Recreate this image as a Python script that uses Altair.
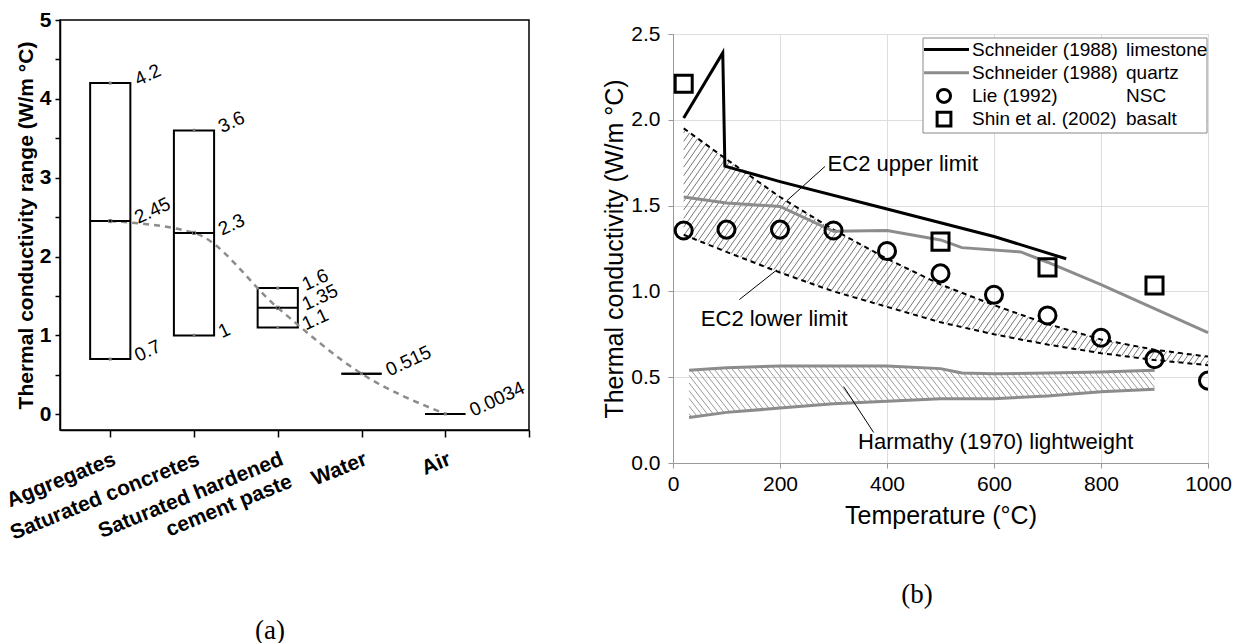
import math
import numpy as np
import altair as alt
import pandas as pd

# ---------------- panel (a) data ----------------
a_cats = ["Aggregates", "Saturated concretes", "Saturated hardened\ncement paste", "Water", "Air"]
a_pos = [1, 2, 3, 4, 5]
a_lo = [0.7, 1.0, 1.1, 0.515, 0.0034]
a_mid = [2.45, 2.3, 1.35, 0.515, 0.0034]
a_hi = [4.2, 3.6, 1.6, 0.515, 0.0034]

# ---------------- panel (b) data ----------------
lime_T = [20, 93, 97, 200, 400, 600, 735]
lime_k = [2.01, 2.39, 1.73, 1.64, 1.48, 1.32, 1.19]
quartz_T = [20, 100, 200, 300, 400, 500, 540, 650, 700, 800, 1000]
quartz_k = [1.55, 1.515, 1.495, 1.35, 1.355, 1.30, 1.255, 1.23, 1.17, 1.04, 0.76]
lie_T = [20, 100, 200, 300, 400, 500, 600, 700, 800, 900, 1000]
lie_k = [1.355, 1.36, 1.36, 1.355, 1.235, 1.105, 0.98, 0.86, 0.73, 0.605, 0.48]
shin_T = [20, 500, 700, 900]
shin_k = [2.21, 1.29, 1.14, 1.035]
ec2_T = [20, 100, 200, 300, 400, 500, 600, 700, 800, 900, 1000]
ec2_up = [1.95, 1.77, 1.55, 1.36, 1.19, 1.04, 0.92, 0.81, 0.72, 0.66, 0.62]
ec2_lo = [1.33, 1.23, 1.11, 1.00, 0.91, 0.82, 0.75, 0.69, 0.64, 0.60, 0.57]
harm_T = [30, 100, 200, 300, 400, 500, 540, 600, 700, 800, 900]
harm_up = [0.54, 0.555, 0.565, 0.565, 0.565, 0.55, 0.525, 0.52, 0.525, 0.53, 0.54]
harm_lo = [0.265, 0.295, 0.32, 0.345, 0.36, 0.375, 0.375, 0.375, 0.39, 0.415, 0.43]

ann_text = ["EC2 upper limit", "EC2 lower limit", "Harmathy (1970) lightweight"]
ann_T = [289, 52, 346]
ann_k = [1.742, 0.839, 0.12]
lead_T1 = [284, 124, 375]
lead_k1 = [1.728, 0.952, 0.178]
lead_T2 = [213, 194, 319]
lead_k2 = [1.529, 1.125, 0.445]

leg_name = ["Schneider (1988)", "Schneider (1988)", "Lie (1992)", "Shin et al. (2002)"]
leg_type = ["limestone", "quartz", "NSC", "basalt"]

FONT = "Liberation Sans"

# ================= panel (a) =================
PW_A, PH_A = 469, 410
dfa = pd.DataFrame({"cat": a_cats, "pos": a_pos, "lo": a_lo, "mid": a_mid, "hi": a_hi})

rows = []
for p, lo, mi, hi in zip(a_pos, a_lo, a_mid, a_hi):
    vals = []
    for v, kind in ((hi, "hi"), (mi, "mid"), (lo, "lo")):
        if all(abs(v - w) > 1e-9 for w, _ in vals):
            vals.append((v, kind))
    for v, kind in vals:
        rows.append({"pos": p, "val": v, "txt": f"{v:g}", "kind": kind})
dfl = pd.DataFrame(rows)

parts = []
for p, c in zip(a_pos, a_cats):
    if "\n" in c:
        lit = "[" + ",".join("'" + s + "'" for s in c.split("\n")) + "]"
    else:
        lit = "'" + c + "'"
    parts.append(f"datum.value == {p} ? {lit}")
xlabel_expr = " : ".join(parts) + " : ''"

axis_xa = alt.Axis(values=[1, 2, 3, 4, 5, 6], labelExpr=xlabel_expr, labelAngle=338,
                   labelAlign="right", labelBaseline="top", labelFontSize=21,
                   labelFontWeight="bold", labelPadding=11, labelLineHeight=24,
                   labelOverlap=False, labelFlush=False, labelLimit=500, tickSize=7,
                   tickWidth=1.5, tickColor="black", domainColor="black", domainWidth=1.5,
                   labelColor="black", grid=False, title=None)
axis_ya = alt.Axis(values=[i * 0.5 for i in range(11)],
                   labelExpr="datum.value % 1 == 0 ? format(datum.value, 'd') : ''",
                   labelFontSize=21, labelFontWeight="bold", labelPadding=4,
                   tickSize=5, tickWidth=1.5, tickColor="black", domainColor="black",
                   domainWidth=1.5, labelColor="black", grid=False,
                   title="Thermal conductivity range (W/m °C)", titleFontSize=21,
                   titleFontWeight="bold", titleColor="black", titlePadding=3)
sx_a = alt.Scale(domain=[0.4, 6.0], nice=False, zero=False)
sy_a = alt.Scale(domain=[-0.2, 5.0], nice=False, zero=False)


def XA(f):
    return alt.X(f"{f}:Q", scale=sx_a, axis=axis_xa)


def YA(f):
    return alt.Y(f"{f}:Q", scale=sy_a, axis=axis_ya)


boxes = alt.Chart(dfa).transform_calculate(
    x0="datum.pos - 0.24", x1="datum.pos + 0.24"
).mark_rect(fill="white", fillOpacity=0, stroke="black", strokeWidth=2).encode(
    x=XA("x0"), x2="x1:Q", y=YA("lo"), y2="hi:Q")

medians = alt.Chart(dfa).transform_calculate(
    x0="datum.pos - 0.24", x1="datum.pos + 0.24"
).mark_rule(color="black", strokeWidth=2).encode(x=XA("x0"), x2="x1:Q", y=YA("mid"))

trend = alt.Chart(dfa).mark_line(color="#8c8c8c", strokeWidth=2.5, strokeDash=[6, 5],
                                  interpolate="monotone").encode(x=XA("pos"), y=YA("mid"))

crosses = alt.Chart(dfl).transform_filter("datum.kind != 'mid'").mark_point(
    shape="cross", angle=45, filled=True, size=14, color="#777", opacity=1
).encode(x=XA("pos"), y=YA("val"))
msq = alt.Chart(dfl).transform_filter("datum.kind == 'mid'").mark_point(
    shape="square", filled=False, size=10, color="#777", strokeWidth=1, opacity=1
).encode(x=XA("pos"), y=YA("val"))

vlabels = alt.Chart(dfl).transform_calculate(xr="datum.pos + 0.24").mark_text(
    align="left", baseline="middle", angle=335, dx=6, fontSize=19, font=FONT, color="black"
).encode(x=XA("xr"), y=YA("val"), text="txt:N")

left = alt.layer(boxes, trend, medians, crosses, msq, vlabels).properties(
    width=PW_A, height=PH_A,
    view=alt.ViewBackground(stroke="black", strokeWidth=1.5),
    title=alt.TitleParams("(a)", orient="bottom", font="Liberation Serif", fontSize=27,
                          fontWeight="normal", color="black", offset=54, anchor="middle",
                          frame="bounds"))

# ================= panel (b) =================
PW_B, PH_B = 535, 429
X_MAX, Y_MAX = 1000.0, 2.5

axis_xb = alt.Axis(values=list(range(0, 1001, 200)), format="d", title="Temperature (°C)",
                   labelFontSize=21, titleFontSize=25, titleFontWeight="normal",
                   titleColor="black", labelColor="black", grid=True, gridColor="#dedede",
                   domainColor="#999", tickColor="#999", tickSize=5, labelPadding=5,
                   titlePadding=9, labelFlush=False)
axis_yb = alt.Axis(values=[0, 0.5, 1.0, 1.5, 2.0, 2.5], format=".1f",
                   title="Thermal conductivity (W/m °C)", labelFontSize=21,
                   titleFontSize=25, titleFontWeight="normal", titleColor="black",
                   labelColor="black", grid=True, gridColor="#dedede", domainColor="#999",
                   tickColor="#999", tickSize=5, labelPadding=8, titlePadding=3)
sx_b = alt.Scale(domain=[0, X_MAX], nice=False, zero=False)
sy_b = alt.Scale(domain=[0, Y_MAX], nice=False, zero=False)


def XB(f):
    return alt.X(f"{f}:Q", scale=sx_b, axis=axis_xb)


def YB(f):
    return alt.Y(f"{f}:Q", scale=sy_b, axis=axis_yb)


def hatch_segments(T, up, lo, angle_deg, spacing_px, slash=True):
    """Diagonal hatch lines clipped to the band between lo and up (pattern-fill look)."""
    px_T = PW_B / X_MAX
    px_k = PH_B / Y_MAX
    m = math.tan(math.radians(angle_deg)) * px_T / px_k
    if not slash:
        m = -m
    Tg = np.arange(min(T), max(T) + 1e-9, 0.25)
    ug = np.interp(Tg, T, up)
    lg = np.interp(Tg, T, lo)
    db = abs(m) * spacing_px / px_T
    bmin = float(np.min(np.minimum(lg, ug) - m * Tg))
    bmax = float(np.max(np.maximum(lg, ug) - m * Tg))
    segs = []
    b = bmin + db / 2
    while b < bmax:
        kl = m * Tg + b
        inside = (kl >= lg) & (kl <= ug)
        idx = np.nonzero(inside)[0]
        if idx.size:
            breaks = np.nonzero(np.diff(idx) > 1)[0]
            starts = np.concatenate(([idx[0]], idx[breaks + 1]))
            ends = np.concatenate((idx[breaks], [idx[-1]]))
            for s, e in zip(starts, ends):
                if e > s:
                    segs.append({"t1": Tg[s], "k1": kl[s], "t2": Tg[e], "k2": kl[e]})
        b += db
    return pd.DataFrame(segs)


df_ec2 = pd.DataFrame({"T": ec2_T, "up": ec2_up, "lo": ec2_lo})
df_harm = pd.DataFrame({"T": harm_T, "up": harm_up, "lo": harm_lo})
df_lime = pd.DataFrame({"T": lime_T, "k": lime_k})
df_quartz = pd.DataFrame({"T": quartz_T, "k": quartz_k})
df_lie = pd.DataFrame({"T": lie_T, "k": lie_k})
df_shin = pd.DataFrame({"T": shin_T, "k": shin_k})
df_ann = pd.DataFrame({"txt": ann_text, "T": ann_T, "k": ann_k,
                       "t1": lead_T1, "k1": lead_k1, "t2": lead_T2, "k2": lead_k2})

ec2_hatch = alt.Chart(hatch_segments(ec2_T, ec2_up, ec2_lo, 55, 6.0, slash=True)).mark_rule(
    color="#555", strokeWidth=0.8).encode(x=XB("t1"), y=YB("k1"), x2="t2:Q", y2="k2:Q")
harm_hatch = alt.Chart(hatch_segments(harm_T, harm_up, harm_lo, 52, 6.0, slash=False)).mark_rule(
    color="#808080", strokeWidth=0.8).encode(x=XB("t1"), y=YB("k1"), x2="t2:Q", y2="k2:Q")

harm_up_l = alt.Chart(df_harm).mark_line(color="#8c8c8c", strokeWidth=3).encode(
    x=XB("T"), y=YB("up"))
harm_lo_l = alt.Chart(df_harm).mark_line(color="#8c8c8c", strokeWidth=3).encode(
    x=XB("T"), y=YB("lo"))
ec2_up_l = alt.Chart(df_ec2).mark_line(color="black", strokeWidth=2, strokeDash=[5, 4]).encode(
    x=XB("T"), y=YB("up"))
ec2_lo_l = alt.Chart(df_ec2).mark_line(color="black", strokeWidth=2, strokeDash=[5, 4]).encode(
    x=XB("T"), y=YB("lo"))
quartz_l = alt.Chart(df_quartz).mark_line(color="#8c8c8c", strokeWidth=3).encode(
    x=XB("T"), y=YB("k"))
lime_l = alt.Chart(df_lime).mark_line(color="black", strokeWidth=3).encode(
    x=XB("T"), y=YB("k"))
lie_p = alt.Chart(df_lie).mark_point(shape="circle", size=290, filled=False, color="black",
                                     strokeWidth=3, opacity=1, clip=True).encode(
    x=XB("T"), y=YB("k"))
shin_p = alt.Chart(df_shin).mark_point(shape="square", size=290, filled=False, color="black",
                                       strokeWidth=3, opacity=1).encode(
    x=XB("T"), y=YB("k"))
leaders = alt.Chart(df_ann).mark_rule(color="black", strokeWidth=1).encode(
    x=XB("t1"), y=YB("k1"), x2="t2:Q", y2="k2:Q")
ann = alt.Chart(df_ann).mark_text(align="left", baseline="middle", fontSize=22, font=FONT,
                                  color="black").encode(x=XB("T"), y=YB("k"), text="txt:N")

one = pd.DataFrame({"d": [0]})

legend_layers = [
    alt.Chart(one).mark_rect(fill="white", stroke="#888", strokeWidth=1).encode(
        x=alt.value(250), x2=alt.value(534), y=alt.value(4), y2=alt.value(99))
]
LEG_Y0, LEG_DY = 15.5, 23.2
for i, (nm, tp) in enumerate(zip(leg_name, leg_type)):
    yy = LEG_Y0 + LEG_DY * i
    if i == 0:
        legend_layers.append(alt.Chart(one).mark_rule(color="black", strokeWidth=3).encode(
            x=alt.value(251), x2=alt.value(296), y=alt.value(yy)))
    elif i == 1:
        legend_layers.append(alt.Chart(one).mark_rule(color="#8c8c8c", strokeWidth=3).encode(
            x=alt.value(251), x2=alt.value(296), y=alt.value(yy)))
    elif i == 2:
        legend_layers.append(alt.Chart(one).mark_point(
            shape="circle", size=170, filled=False, color="black", strokeWidth=3, opacity=1
        ).encode(x=alt.value(271), y=alt.value(yy)))
    else:
        legend_layers.append(alt.Chart(one).mark_point(
            shape="square", size=190, filled=False, color="black", strokeWidth=3, opacity=1
        ).encode(x=alt.value(271), y=alt.value(yy)))
    legend_layers.append(alt.Chart(one).mark_text(
        align="left", baseline="middle", fontSize=19, font=FONT, color="black", text=nm
    ).encode(x=alt.value(299), y=alt.value(yy)))
    legend_layers.append(alt.Chart(one).mark_text(
        align="left", baseline="middle", fontSize=19, font=FONT, color="black", text=tp
    ).encode(x=alt.value(453), y=alt.value(yy)))

right = alt.layer(ec2_hatch, harm_hatch, harm_up_l, harm_lo_l, ec2_up_l, ec2_lo_l,
                  quartz_l, lime_l, lie_p, shin_p, leaders, ann,
                  *legend_layers).properties(
    width=PW_B, height=PH_B,
    view=alt.ViewBackground(stroke="#999", strokeWidth=1),
    title=alt.TitleParams("(b)", orient="bottom", font="Liberation Serif", fontSize=27,
                          fontWeight="normal", color="black", offset=54, anchor="middle",
                          frame="bounds"))

# tiny empty strip above panel (b): panel (b) sits a little lower than panel (a)
top_strip = alt.Chart(one).mark_point(opacity=0).encode(
    x=alt.value(0), y=alt.value(0)
).properties(width=PW_B, height=1, view=alt.ViewBackground(strokeOpacity=0))

right_col = alt.vconcat(top_strip, right, spacing=-1)

chart = alt.hconcat(left, right_col, spacing=64).properties(
    padding={"left": 2, "top": 8, "right": 5, "bottom": 5},
    background="white"
).configure(font=FONT).configure_axis(labelFont=FONT, titleFont=FONT)

chart.save("out.html", embed_options={"renderer": "svg", "actions": False})
